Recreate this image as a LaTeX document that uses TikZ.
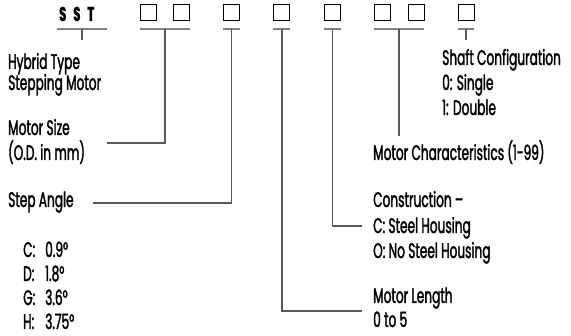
\documentclass[tikz,border=0pt]{standalone}
\usepackage{fontspec}
\setmainfont{Poppins}[FakeStretch=0.58,FakeBold=1.6]

\tikzset{
  lbl/.style={anchor=base west, inner sep=0pt, font=\fontsize{21}{24}\selectfont},
  slot/.style={draw, line width=0.8pt, minimum size=16pt, inner sep=0pt},
  bar/.style={draw=gray, line width=2pt},
  link/.style={draw=black!65, line width=1.1pt}
}

\begin{document}
\begin{tikzpicture}[x=1pt,y=-1pt]
    \useasboundingbox (0,0) rectangle (571,336);

    % part number code
    \node[lbl, font=\bfseries\fontsize{20}{24}\selectfont] (sst) at (59,21) {S\hspace{7pt}S\hspace{7pt}T};
    \node[slot] (b1) at (148.5,12.5) {};
    \node[slot] (b2) at (181.5,12.5) {};
    \node[slot] (b3) at (231.5,12.5) {};
    \node[slot] (b4) at (281.5,12.5) {};
    \node[slot] (b5) at (332.5,12.5) {};
    \node[slot] (b6) at (382.5,12.5) {};
    \node[slot] (b7) at (416,12.5) {};
    \node[slot] (b8) at (466,12.5) {};

    % bars under the code
    \coordinate (s0) at (57,29);
    \coordinate (s1) at (107,29);
    \draw[bar] (s0) -- (s1);
    \draw[bar] ([yshift=-8.5pt]b1.south west) -- ([yshift=-8.5pt]b2.south east);
    \draw[bar] ([yshift=-8.5pt]b3.south west) -- ([yshift=-8.5pt]b3.south east);
    \draw[bar] ([yshift=-8.5pt]b4.south west) -- ([yshift=-8.5pt]b4.south east);
    \draw[bar] ([yshift=-8.5pt]b5.south west) -- ([yshift=-8.5pt]b5.south east);
    \draw[bar] ([yshift=-8.5pt]b6.south west) -- ([yshift=-8.5pt]b7.south east);
    \draw[bar] ([yshift=-8.5pt]b8.south west) -- ([yshift=-8.5pt]b8.south east);

    % junctions on the bars
    \coordinate (j0) at (82,29);
    \coordinate (j12) at (165,29);
    \coordinate (j3) at (231.5,29);
    \coordinate (j4) at (282,29);
    \coordinate (j5) at (332.5,29);
    \coordinate (j67) at (399,29);
    \coordinate (j8) at (466,29);

    % labels
    \node[lbl] (hybrid) at (8,69) {Hybrid Type};
    \node[lbl] (stepping) at (8,90) {Stepping Motor};
    \node[lbl] (size) at (8,135) {Motor Size};
    \node[lbl] (od) at (8,160) {(O.D. in mm)};
    \node[lbl] (angle) at (8,207) {Step Angle};
    \node[lbl] (ac) at (23,257) {C:};
    \node[lbl] (ad) at (23,281) {D:};
    \node[lbl] (ag) at (23,305) {G:};
    \node[lbl] (ah) at (23,329) {H:};
    \node[lbl] (vc) at (45,257) {0.9°};
    \node[lbl] (vd) at (45,281) {1.8°};
    \node[lbl] (vg) at (45,305) {3.6°};
    \node[lbl] (vh) at (45,329) {3.75°};
    \node[lbl] (shaft) at (442,65) {Shaft Configuration};
    \node[lbl] (single) at (442,90) {0: Single};
    \node[lbl] (double) at (442,115) {1: Double};
    \node[lbl] (chars) at (373,160) {Motor Characteristics (1-99)};
    \node[lbl] (constr) at (373,207) {Construction --};
    \node[lbl] (steel) at (373,233) {C: Steel Housing};
    \node[lbl] (nosteel) at (373,258) {O: No Steel Housing};
    \node[lbl] (length) at (373,303) {Motor Length};
    \node[lbl] (range) at (373,327) {0 to 5};

    % connector ends
    \coordinate (sizeend) at (107,143);
    \coordinate (angleend) at (93,203);
    \coordinate (lengthend) at (362,311);
    \coordinate (constrend) at (362,226);

    % connectors
    \draw[link] (j0) -- ++(0,11);
    \draw[link] (j12) |- (sizeend);
    \draw[link] (j3) |- (angleend);
    \draw[link] (j4) |- (lengthend);
    \draw[link] (j5) |- (constrend);
    \draw[link] (j67) -- ++(0,107);
    \draw[link] (j8) -- ++(0,11);
\end{tikzpicture}
\end{document}
